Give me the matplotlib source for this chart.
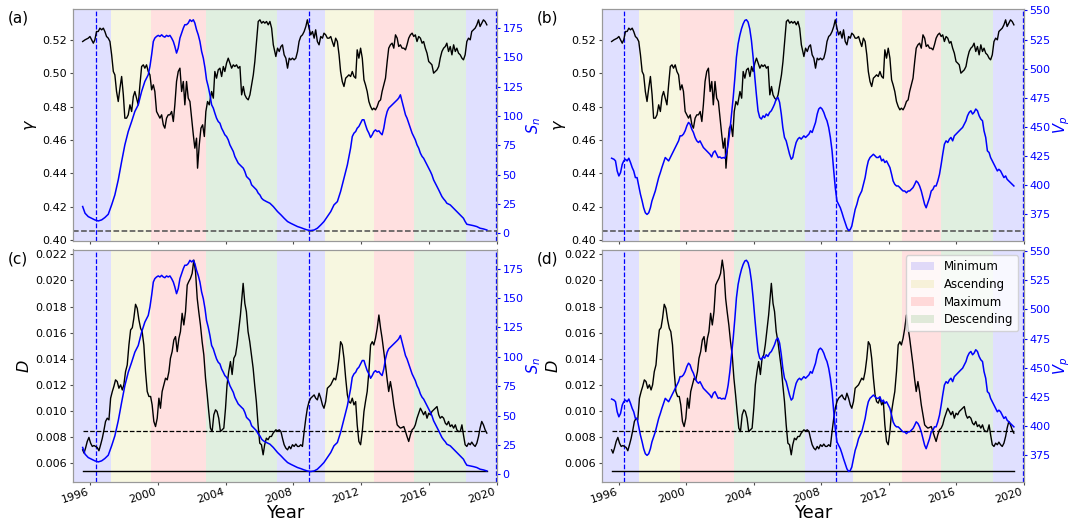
import matplotlib
matplotlib.use("Agg")
import matplotlib.pyplot as plt
from matplotlib.patches import Patch

# ---------------- data ----------------
gamma_early_years = [
    1995.57, 1995.71, 1995.90, 1996.00, 1996.10, 1996.20, 1996.29, 1996.39, 1996.49, 1996.59,
    1996.69, 1996.79, 1996.88, 1996.98, 1997.08, 1997.18, 1997.28, 1997.38, 1997.47, 1997.57,
    1997.67, 1997.77, 1997.87, 1997.97, 1998.06, 1998.16, 1998.26, 1998.36, 1998.46, 1998.56,
    1998.65, 1998.75, 1998.85, 1998.95, 1999.05, 1999.15, 1999.24, 1999.34, 1999.44, 1999.54,
    1999.64, 1999.74, 1999.83, 1999.93, 2000.03, 2000.13, 2000.23, 2000.33, 2000.42, 2000.52,
    2000.62, 2000.72, 2000.82, 2000.92, 2001.01, 2001.11, 2001.21, 2001.31, 2001.41, 2001.51,
    2001.60, 2001.70, 2001.80, 2001.90, 2002.00, 2002.10, 2002.19, 2002.29, 2002.35, 2002.45,
    2002.55, 2002.65, 2002.75, 2002.84, 2002.94, 2003.04, 2003.18, 2003.28, 2003.37, 2003.47,
    2003.57, 2003.67, 2003.77, 2003.87, 2003.96, 2004.06, 2004.16, 2004.26, 2004.36, 2004.46,
    2004.55, 2004.65, 2004.75, 2004.85, 2004.95, 2005.05, 2005.14, 2005.24, 2005.34, 2005.44,
    2005.54, 2005.64, 2005.73, 2005.83, 2005.93, 2006.03, 2006.13, 2006.23, 2006.32, 2006.42,
    2006.52, 2006.62, 2006.72, 2006.82]
gamma_early = [
    0.519, 0.520, 0.521, 0.522, 0.520, 0.518, 0.520, 0.525, 0.525, 0.527,
    0.526, 0.527, 0.525, 0.522, 0.521, 0.519, 0.511, 0.501, 0.499, 0.489,
    0.483, 0.491, 0.498, 0.487, 0.473, 0.473, 0.475, 0.481, 0.477, 0.486,
    0.489, 0.485, 0.481, 0.493, 0.504, 0.505, 0.503, 0.505, 0.501, 0.499,
    0.490, 0.493, 0.489, 0.477, 0.475, 0.473, 0.475, 0.469, 0.467, 0.473,
    0.475, 0.475, 0.477, 0.471, 0.481, 0.495, 0.501, 0.503, 0.489, 0.495,
    0.481, 0.495, 0.485, 0.483, 0.473, 0.463, 0.455, 0.461, 0.443, 0.457,
    0.467, 0.469, 0.462, 0.477, 0.483, 0.481, 0.489, 0.485, 0.501, 0.497,
    0.502, 0.503, 0.498, 0.504, 0.501, 0.506, 0.509, 0.506, 0.503, 0.505,
    0.504, 0.505, 0.503, 0.504, 0.487, 0.492, 0.487, 0.485, 0.484, 0.487,
    0.493, 0.499, 0.507, 0.519, 0.531, 0.532, 0.530, 0.531, 0.530, 0.531,
    0.529, 0.531, 0.527, 0.517]

late_years = [
    2006.97, 2007.07, 2007.17, 2007.27, 2007.36, 2007.46, 2007.56, 2007.66, 2007.76, 2007.85,
    2007.95, 2008.05, 2008.15, 2008.25, 2008.34, 2008.44, 2008.54, 2008.64, 2008.74, 2008.83,
    2008.93, 2009.03, 2009.13, 2009.23, 2009.32, 2009.42, 2009.52, 2009.62, 2009.72, 2009.81,
    2009.91, 2010.01, 2010.11, 2010.21, 2010.30, 2010.40, 2010.50, 2010.60, 2010.70, 2010.79,
    2010.89, 2010.99, 2011.09, 2011.19, 2011.28, 2011.38, 2011.48, 2011.58, 2011.68, 2011.77,
    2011.87, 2011.97, 2012.07, 2012.17, 2012.26, 2012.36, 2012.46, 2012.56, 2012.66, 2012.75,
    2012.85, 2012.95, 2013.05, 2013.15, 2013.24, 2013.34, 2013.44, 2013.54, 2013.63, 2013.73,
    2013.83, 2013.93, 2014.03, 2014.13, 2014.22, 2014.32, 2014.42, 2014.52, 2014.62, 2014.71,
    2014.81, 2014.91, 2015.01, 2015.11, 2015.20, 2015.30, 2015.40, 2015.50, 2015.60, 2015.69,
    2015.79, 2015.89, 2015.99, 2016.09, 2016.18, 2016.28, 2016.38, 2016.48, 2016.58, 2016.67,
    2016.77, 2016.87, 2016.97, 2017.06, 2017.16, 2017.26, 2017.36, 2017.46, 2017.56, 2017.65,
    2017.75, 2017.85, 2017.95, 2018.04, 2018.14, 2018.24, 2018.34, 2018.44, 2018.53, 2018.63,
    2018.73, 2018.83, 2018.93, 2019.02, 2019.12, 2019.22, 2019.32, 2019.42]
gamma_late = [
    0.510, 0.515, 0.513, 0.516, 0.517, 0.511, 0.509, 0.503, 0.509, 0.508,
    0.509, 0.508, 0.509, 0.513, 0.519, 0.522, 0.523, 0.525, 0.528, 0.532,
    0.527, 0.523, 0.525, 0.521, 0.526, 0.519, 0.517, 0.522, 0.521, 0.524,
    0.523, 0.521, 0.521, 0.522, 0.519, 0.516, 0.521, 0.519, 0.511, 0.501,
    0.495, 0.492, 0.497, 0.498, 0.499, 0.498, 0.501, 0.498, 0.497, 0.514,
    0.509, 0.515, 0.509, 0.496, 0.493, 0.489, 0.483, 0.480, 0.478, 0.479,
    0.478, 0.480, 0.483, 0.484, 0.489, 0.493, 0.497, 0.507, 0.515, 0.517,
    0.518, 0.515, 0.523, 0.521, 0.516, 0.517, 0.515, 0.515, 0.514, 0.517,
    0.521, 0.523, 0.524, 0.522, 0.523, 0.519, 0.522, 0.521, 0.518, 0.519,
    0.515, 0.512, 0.507, 0.506, 0.505, 0.500, 0.501, 0.502, 0.504, 0.509,
    0.513, 0.515, 0.516, 0.518, 0.513, 0.516, 0.511, 0.517, 0.513, 0.515,
    0.512, 0.511, 0.509, 0.508, 0.511, 0.519, 0.521, 0.520, 0.525, 0.526,
    0.527, 0.529, 0.532, 0.528, 0.530, 0.532, 0.531, 0.529]

D_early_years = [
    1995.57, 1995.65, 1995.74, 1995.84, 1995.94, 1996.04, 1996.14, 1996.24, 1996.33, 1996.43,
    1996.53, 1996.63, 1996.73, 1996.83, 1996.92, 1997.02, 1997.12, 1997.22, 1997.32, 1997.41,
    1997.51, 1997.61, 1997.71, 1997.81, 1997.91, 1998.00, 1998.10, 1998.20, 1998.30, 1998.40,
    1998.50, 1998.59, 1998.69, 1998.79, 1998.89, 1998.99, 1999.08, 1999.18, 1999.28, 1999.38,
    1999.48, 1999.58, 1999.67, 1999.77, 1999.87, 1999.97, 2000.07, 2000.16, 2000.26, 2000.36,
    2000.46, 2000.56, 2000.66, 2000.75, 2000.85, 2000.95, 2001.05, 2001.15, 2001.25, 2001.34,
    2001.44, 2001.54, 2001.64, 2001.74, 2001.83, 2001.93, 2002.03, 2002.13, 2002.23, 2002.33,
    2002.42, 2002.52, 2002.62, 2002.72, 2002.82, 2002.92, 2003.01, 2003.11, 2003.21, 2003.31,
    2003.41, 2003.50, 2003.60, 2003.70, 2003.80, 2003.90, 2004.00, 2004.09, 2004.19, 2004.29,
    2004.39, 2004.49, 2004.59, 2004.68, 2004.78, 2004.88, 2004.98, 2005.04, 2005.14, 2005.23,
    2005.33, 2005.43, 2005.53, 2005.63, 2005.72, 2005.82, 2005.92, 2006.02, 2006.12, 2006.22,
    2006.31, 2006.41, 2006.51, 2006.61, 2006.71, 2006.81]
D_early = [
    0.00704, 0.00679, 0.00717, 0.00768, 0.00799, 0.00755, 0.00730, 0.00737, 0.00730, 0.00722,
    0.00697, 0.00743, 0.00793, 0.00857, 0.00921, 0.00946, 0.00933, 0.01099, 0.01150, 0.01188,
    0.01239, 0.01226, 0.01175, 0.01201, 0.01162, 0.01201, 0.01302, 0.01353, 0.01506, 0.01621,
    0.01638, 0.01710, 0.01817, 0.01786, 0.01697, 0.01633, 0.01608, 0.01506, 0.01302, 0.01150,
    0.01112, 0.01112, 0.01048, 0.00921, 0.00882, 0.00946, 0.01099, 0.01022, 0.01150, 0.01201,
    0.01252, 0.01239, 0.01302, 0.01404, 0.01455, 0.01544, 0.01570, 0.01455, 0.01557, 0.01608,
    0.01748, 0.01659, 0.01761, 0.01964, 0.01990, 0.02015, 0.02053, 0.02155, 0.02066, 0.01862,
    0.01761, 0.01659, 0.01531, 0.01430, 0.01252, 0.01124, 0.00997, 0.00870, 0.00844, 0.00972,
    0.01010, 0.00997, 0.00946, 0.00844, 0.00857, 0.00870, 0.01022, 0.01201, 0.01302, 0.01379,
    0.01280, 0.01404, 0.01430, 0.01506, 0.01621, 0.01735, 0.01888, 0.01977, 0.01824, 0.01761,
    0.01608, 0.01531, 0.01430, 0.01328, 0.01201, 0.01073, 0.00895, 0.00755, 0.00743, 0.00666,
    0.00743, 0.00793, 0.00781, 0.00806, 0.00806, 0.00832]
D_late = [
    0.00857, 0.00849, 0.00857, 0.00844, 0.00793, 0.00743, 0.00717, 0.00704, 0.00730, 0.00712,
    0.00743, 0.00730, 0.00748, 0.00730, 0.00730, 0.00743, 0.00730, 0.00844, 0.00946, 0.01022,
    0.01073, 0.01099, 0.01112, 0.01124, 0.01099, 0.01086, 0.01137, 0.01099, 0.01048, 0.01022,
    0.01073, 0.01175, 0.01188, 0.01201, 0.01226, 0.01252, 0.01239, 0.01302, 0.01404, 0.01531,
    0.01506, 0.01404, 0.01252, 0.01124, 0.01073, 0.01061, 0.01099, 0.01048, 0.01073, 0.00895,
    0.00768, 0.00743, 0.00844, 0.00997, 0.01073, 0.01150, 0.01302, 0.01506, 0.01531, 0.01506,
    0.01557, 0.01633, 0.01735, 0.01633, 0.01557, 0.01455, 0.01353, 0.01239, 0.01150, 0.01226,
    0.01150, 0.01048, 0.00972, 0.00895, 0.00882, 0.00870, 0.00875, 0.00882, 0.00844, 0.00806,
    0.00768, 0.00819, 0.00857, 0.00870, 0.00895, 0.00946, 0.00984, 0.01022, 0.00997, 0.00972,
    0.00997, 0.00946, 0.00984, 0.00972, 0.00997, 0.01010, 0.01022, 0.01035, 0.00972, 0.00946,
    0.00959, 0.00946, 0.00908, 0.00895, 0.00921, 0.00882, 0.00895, 0.00870, 0.00895, 0.00857,
    0.00844, 0.00844, 0.00895, 0.00819, 0.00743, 0.00730, 0.00755, 0.00743, 0.00763, 0.00743,
    0.00730, 0.00755, 0.00806, 0.00870, 0.00921, 0.00895, 0.00857, 0.00832]

Vp_early_years = [
    1995.57, 1995.71, 1995.80, 1995.90, 1996.00, 1996.10, 1996.20, 1996.29, 1996.39, 1996.49,
    1996.59, 1996.69, 1996.79, 1996.88, 1996.98, 1997.08, 1997.18, 1997.28, 1997.38, 1997.47,
    1997.57, 1997.67, 1997.77, 1997.87, 1997.96, 1998.06, 1998.16, 1998.26, 1998.36, 1998.46,
    1998.55, 1998.65, 1998.75, 1998.85, 1998.95, 1999.05, 1999.14, 1999.24, 1999.34, 1999.44,
    1999.54, 1999.63, 1999.73, 1999.83, 1999.93, 2000.03, 2000.13, 2000.22, 2000.32, 2000.42,
    2000.52, 2000.62, 2000.72, 2000.81, 2000.91, 2001.01, 2001.11, 2001.21, 2001.30, 2001.40,
    2001.50, 2001.60, 2001.70, 2001.80, 2001.89, 2001.99, 2002.09, 2002.19, 2002.29, 2002.39,
    2002.48, 2002.58, 2002.68, 2002.78, 2002.88, 2002.97, 2003.07, 2003.17, 2003.27, 2003.37,
    2003.47, 2003.56, 2003.66, 2003.76, 2003.86, 2003.96, 2004.06, 2004.15, 2004.25, 2004.35,
    2004.45, 2004.55, 2004.64, 2004.74, 2004.84, 2004.94, 2005.04, 2005.14, 2005.23, 2005.33,
    2005.43, 2005.53, 2005.63, 2005.72, 2005.82, 2005.92, 2006.02, 2006.12, 2006.22, 2006.31,
    2006.41, 2006.51, 2006.61, 2006.71, 2006.81]
Vp_early = [
    423.2, 422.3, 420.9, 412.3, 408.0, 410.9, 418.0, 420.9, 422.3, 420.9,
    423.2, 419.5, 415.2, 412.3, 406.6, 406.6, 399.4, 392.2, 386.5, 380.7,
    376.4, 375.0, 376.4, 380.7, 386.5, 390.8, 395.1, 400.8, 406.6, 410.9,
    415.2, 419.5, 423.8, 422.3, 420.9, 423.8, 426.6, 429.5, 432.4, 435.2,
    438.1, 442.4, 442.4, 443.9, 446.7, 451.0, 453.9, 452.5, 448.2, 445.3,
    441.0, 438.1, 436.7, 438.1, 435.2, 432.4, 430.9, 429.5, 428.1, 426.6,
    424.3, 428.1, 429.5, 426.6, 423.8, 424.3, 423.2, 423.8, 423.2, 428.1,
    435.2, 446.7, 461.1, 475.4, 492.6, 509.8, 521.3, 528.5, 534.2, 538.5,
    541.4, 542.0, 540.0, 534.2, 524.2, 509.8, 492.6, 478.3, 463.9, 458.2,
    456.8, 459.6, 458.2, 461.1, 459.6, 462.5, 463.9, 466.8, 469.7, 474.0,
    475.4, 471.1, 461.1, 449.6, 441.0, 438.1, 432.4, 426.6, 422.3, 423.8,
    431.0, 436.7, 439.6, 441.0, 439.6]
Vp_late = [
    442.4, 441.0, 442.4, 443.9, 446.7, 445.3, 449.6, 453.9, 461.1, 465.4,
    466.8, 465.4, 462.5, 458.2, 455.3, 449.6, 441.0, 429.5, 412.3, 398.0,
    386.5, 383.6, 380.7, 376.4, 372.1, 367.8, 363.5, 361.2, 362.1, 365.0,
    372.1, 379.3, 383.6, 389.3, 392.2, 395.1, 400.8, 406.6, 415.2, 420.9,
    423.8, 425.2, 426.6, 425.2, 423.8, 423.8, 425.2, 420.9, 422.3, 419.5,
    420.9, 418.0, 415.2, 409.4, 403.7, 400.8, 399.4, 399.4, 398.0, 396.5,
    395.1, 395.1, 393.6, 395.1, 395.1, 396.5, 398.0, 400.8, 403.7, 402.3,
    399.4, 395.1, 389.3, 383.6, 380.7, 385.0, 389.3, 395.1, 396.5, 399.4,
    399.4, 403.7, 409.4, 418.0, 426.6, 435.2, 438.1, 436.7, 439.6, 441.0,
    438.1, 442.4, 443.9, 445.3, 446.7, 448.2, 449.6, 452.5, 455.3, 459.6,
    462.5, 463.9, 461.1, 462.5, 465.4, 463.9, 459.6, 456.8, 455.3, 446.7,
    441.0, 429.5, 428.1, 423.8, 420.9, 418.0, 415.2, 412.3, 413.7, 412.3,
    409.4, 406.6, 408.0, 405.1, 403.7, 402.3, 400.8, 399.4]

Sn_years = [
    1995.57, 1995.71, 1995.90, 1996.10, 1996.29, 1996.49, 1996.69, 1996.88, 1997.08, 1997.28,
    1997.47, 1997.67, 1997.87, 1998.06, 1998.26, 1998.46, 1998.65, 1998.85, 1999.05, 1999.24,
    1999.44, 1999.54, 1999.64, 1999.74, 1999.83, 1999.93, 2000.03, 2000.13, 2000.23, 2000.33,
    2000.42, 2000.52, 2000.62, 2000.72, 2000.82, 2000.92, 2001.01, 2001.11, 2001.21, 2001.31,
    2001.41, 2001.51, 2001.60, 2001.70, 2001.80, 2001.90, 2002.00, 2002.10, 2002.19, 2002.29,
    2002.39, 2002.49, 2002.59, 2002.69, 2002.79, 2002.88, 2002.98, 2003.08, 2003.18, 2003.28,
    2003.37, 2003.47, 2003.57, 2003.67, 2003.77, 2003.87, 2003.96, 2004.06, 2004.16, 2004.26,
    2004.36, 2004.46, 2004.55, 2004.65, 2004.75, 2004.85, 2004.95, 2005.05, 2005.14, 2005.24,
    2005.34, 2005.44, 2005.54, 2005.64, 2005.73, 2005.83, 2005.93, 2006.03, 2006.13, 2006.23,
    2006.42, 2006.62, 2006.82,
    2007.07, 2007.27, 2007.46, 2007.66, 2007.85, 2008.05, 2008.25, 2008.44, 2008.64, 2008.83,
    2009.03, 2009.23, 2009.42, 2009.62, 2009.81, 2010.01, 2010.21, 2010.40, 2010.60, 2010.79,
    2010.99, 2011.19, 2011.38, 2011.48, 2011.58, 2011.68, 2011.77, 2011.87, 2011.97, 2012.07,
    2012.17, 2012.26, 2012.36, 2012.46, 2012.56, 2012.66, 2012.75, 2012.85, 2012.95, 2013.05,
    2013.15, 2013.24, 2013.34, 2013.44, 2013.54, 2013.63, 2013.73, 2013.83, 2013.93, 2014.03,
    2014.13, 2014.22, 2014.32, 2014.42, 2014.52, 2014.62, 2014.71, 2014.81, 2014.91, 2015.01,
    2015.11, 2015.20, 2015.30, 2015.40, 2015.50, 2015.60, 2015.69, 2015.79, 2015.89, 2015.99,
    2016.09, 2016.18, 2016.28, 2016.38, 2016.48, 2016.58, 2016.67, 2016.77, 2016.87, 2016.97,
    2017.06, 2017.26, 2017.46, 2017.65, 2017.85, 2018.04, 2018.14, 2018.24, 2018.44, 2018.63,
    2018.83, 2019.02, 2019.22, 2019.42]
Sn_values = [
    22.8, 17.1, 14.2, 12.8, 11.4, 10.5, 11.4, 13.4, 16.2, 24.2,
    32.7, 45.5, 61.2, 75.4, 86.8, 95.3, 103.9, 109.6, 121.0, 129.5,
    135.2, 142.3, 152.3, 163.6, 166.5, 167.9, 168.8, 167.9, 169.3, 167.9,
    167.3, 168.8, 167.9, 168.8, 166.5, 163.6, 159.4, 153.7, 158.0, 166.5,
    170.8, 175.0, 177.9, 177.9, 179.3, 182.1, 180.7, 182.1, 179.3, 173.6,
    169.3, 163.6, 155.1, 149.4, 140.9, 130.9, 125.2, 118.1, 109.6, 106.7,
    102.5, 98.2, 95.3, 93.9, 89.6, 86.8, 84.0, 82.5, 79.7, 75.4,
    72.6, 69.7, 65.5, 62.6, 59.8, 58.3, 56.9, 55.5, 52.7, 48.4,
    47.0, 45.5, 41.3, 39.8, 38.4, 37.0, 34.2, 32.7, 29.9, 28.5,
    27.0, 25.6, 22.8,
    18.5, 15.7, 12.8, 10.0, 8.5, 7.1, 5.7, 4.8, 3.7, 2.8,
    2.3, 2.8, 4.3, 7.1, 10.0, 14.2, 18.5, 24.2, 27.0, 35.6,
    47.0, 58.3, 72.6, 82.5, 85.4, 86.8, 89.6, 91.1, 93.9, 96.8,
    96.8, 92.5, 88.2, 85.4, 81.7, 84.0, 86.8, 88.2, 86.8, 87.4,
    85.4, 84.0, 89.6, 98.2, 103.9, 106.7, 108.1, 109.6, 111.0, 112.4,
    113.8, 115.3, 118.1, 112.4, 106.7, 101.0, 98.2, 93.9, 89.6, 85.4,
    82.5, 79.7, 75.4, 72.6, 68.3, 65.5, 64.0, 61.2, 58.3, 55.5,
    52.7, 49.8, 45.5, 42.7, 39.8, 37.0, 34.2, 31.3, 29.3, 27.6,
    25.6, 24.2, 21.3, 18.5, 15.7, 12.8, 10.0, 7.7, 7.1, 6.5,
    5.7, 4.3, 3.7, 2.8]

phase_names = ["Minimum", "Ascending", "Maximum", "Descending"]
phase_colors = ["blue", "y", "red", "green"]
phase_edges = [1995.0, 1997.22, 1999.63, 2002.82, 2007.05, 2009.86, 2012.77, 2015.10, 2018.20, 2020.02]
phase_order = [0, 1, 2, 3, 0, 1, 2, 3, 0]
minima_years = [1996.33, 2008.90, 2019.95]
gamma_threshold = 0.4055
D_dashed_level = 0.0085
D_solid_level = 0.0054
year_ticks = [1996, 2000, 2004, 2008, 2012, 2016, 2020]

# ---------------- assemble series ----------------
def join(y1, v1, y2, v2):
    n1 = min(len(y1), len(v1)); n2 = min(len(y2), len(v2))
    return list(y1[:n1]) + list(y2[:n2]), list(v1[:n1]) + list(v2[:n2])

g_x, g_y = join(gamma_early_years, gamma_early, late_years, gamma_late)
d_x, d_y = join(D_early_years, D_early, late_years, D_late)
v_x, v_y = join(Vp_early_years, Vp_early, late_years, Vp_late)
n_s = min(len(Sn_years), len(Sn_values))
s_x, s_y = Sn_years[:n_s], Sn_values[:n_s]

W, H = 1070, 522
fig = plt.figure(figsize=(W / 100, H / 100), dpi=100)

def px_axes(l, t, r, b):
    return fig.add_axes([l / W, 1 - b / H, (r - l) / W, (b - t) / H])

TICK = 8
SPINE = "0.6"

def base_panel(ax, bottom_row):
    for i, k in enumerate(phase_order):
        ax.axvspan(phase_edges[i], phase_edges[i + 1], color=phase_colors[k],
                   alpha=0.12, lw=0, zorder=0)
    for m in minima_years:
        ax.axvline(m, color="blue", ls="--", lw=0.9, zorder=1.5)
    ax.set_xlim(1995.0, 2020.02)
    ax.set_xticks(year_ticks)
    ax.tick_params(axis="both", labelsize=TICK, length=2.5, pad=1.8, color="0.3")
    if bottom_row:
        ax.set_xticklabels([str(t) for t in year_ticks], rotation=18, ha="right")
        ax.tick_params(axis="x", pad=1.2)
    else:
        ax.tick_params(axis="x", labelbottom=False)
    for sp in ax.spines.values():
        sp.set_color(SPINE)

def right_axis(ax, xs, ys, label, ylim, ticks):
    ax2 = ax.twinx()
    ax2.plot(xs, ys, color="blue", lw=1.1)
    ax2.set_ylim(*ylim)
    ax2.set_yticks(ticks)
    ax2.tick_params(axis="y", colors="blue", labelsize=TICK, length=2.5, pad=1.5)
    ax2.set_ylabel(label, color="blue", fontsize=10.5, labelpad=0.5)
    for sp in ax2.spines.values():
        sp.set_color(SPINE)
    return ax2

gamma_lim = (0.3993, 0.5385)
D_lim = (0.00458, 0.02236)
Sn_lim = (-6.6, 191.3)
Vp_lim = (352.2, 551.2)
gamma_ticks = [0.40, 0.42, 0.44, 0.46, 0.48, 0.50, 0.52]
D_ticks = [0.006, 0.008, 0.010, 0.012, 0.014, 0.016, 0.018, 0.020, 0.022]
Sn_ticks = [0, 25, 50, 75, 100, 125, 150, 175]
Vp_ticks = [375, 400, 425, 450, 475, 500, 525, 550]

panels = [
    ("(a)", (73, 9, 497, 241), "gamma", "Sn"),
    ("(b)", (602, 9, 1024, 241), "gamma", "Vp"),
    ("(c)", (73, 249.5, 497, 482), "D", "Sn"),
    ("(d)", (602, 249.5, 1024, 482), "D", "Vp"),
]

for label, box, left, right in panels:
    ax = px_axes(*box)
    bottom_row = left == "D"
    base_panel(ax, bottom_row)
    if left == "gamma":
        ax.plot(g_x, g_y, color="black", lw=1.0, zorder=2)
        ax.axhline(gamma_threshold, color="0.3", ls="--", lw=1.1, zorder=1.6)
        ax.set_ylim(*gamma_lim)
        ax.set_yticks(gamma_ticks)
        ax.set_ylabel(r"$\gamma$", fontsize=11.5, labelpad=2)
    else:
        ax.plot(d_x, d_y, color="black", lw=1.0, zorder=2)
        ax.plot([d_x[0], d_x[-1]], [D_dashed_level, D_dashed_level], color="black",
                ls="--", lw=0.9, zorder=1.6)
        ax.plot([d_x[0], d_x[-1]], [D_solid_level, D_solid_level], color="black",
                lw=1.0, zorder=1.6)
        ax.set_ylim(*D_lim)
        ax.set_yticks(D_ticks)
        ax.set_ylabel(r"$D$", fontsize=11.5, labelpad=2)
    if right == "Sn":
        ax2 = right_axis(ax, s_x, s_y, r"$S_n$", Sn_lim, Sn_ticks)
    else:
        ax2 = right_axis(ax, v_x, v_y, r"$V_p$", Vp_lim, Vp_ticks)
    l, t, r, b = box
    fig.text((l - 65) / W, 1 - (t + 9) / H, label, fontsize=11, va="center", ha="left")
    if bottom_row:
        fig.text((l + r) / 2 / W, 1 - 513 / H, "Year", fontsize=13, ha="center", va="center")
    if label == "(d)":
        handles = [Patch(facecolor=phase_colors[k], alpha=0.12, label=phase_names[k])
                   for k in range(4)]
        ax2.legend(handles=handles, loc="upper right", fontsize=8.5, labelspacing=0.4)

fig.savefig("out.png", dpi=100)
